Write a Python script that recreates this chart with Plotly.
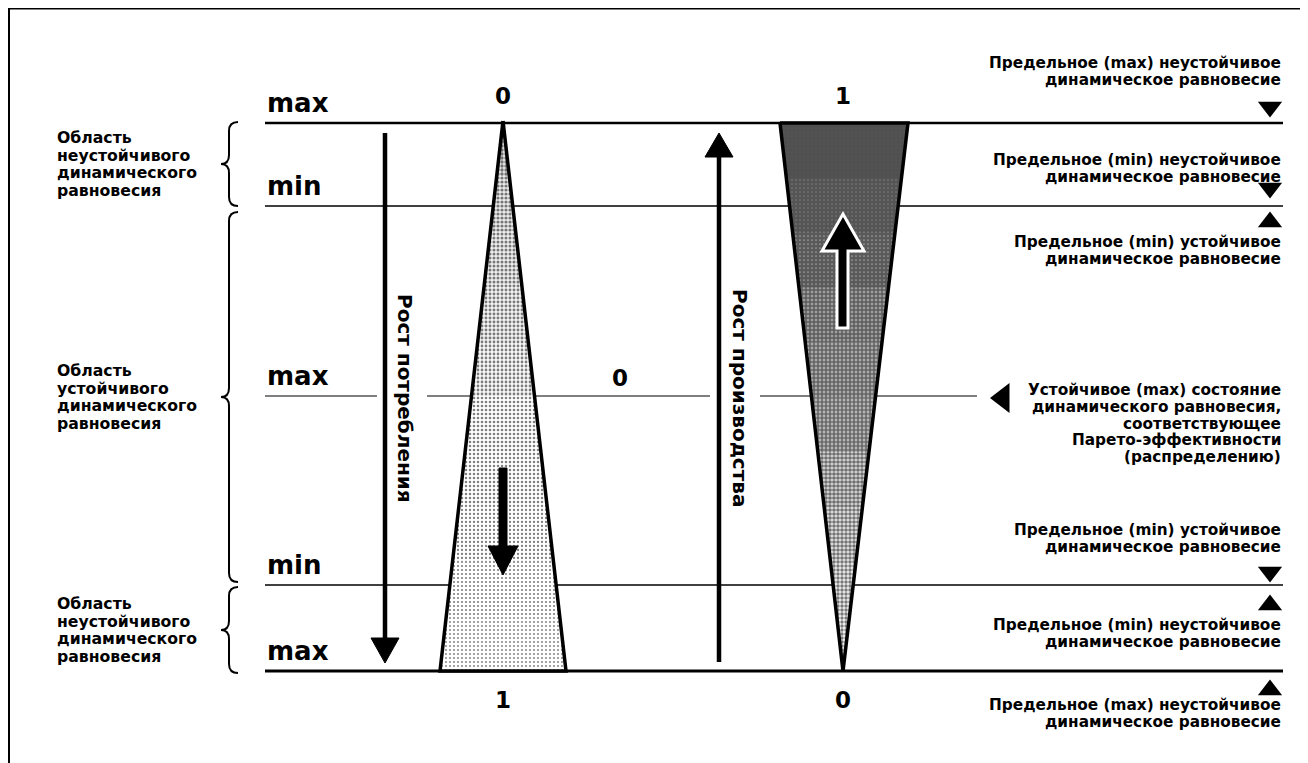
import plotly.graph_objects as go

# ---------------- data ----------------
level_labels = ["max", "min", "max", "min", "max"]
level_values = [123, 206, 396, 585, 671]
level_widths = [2.5, 1.4, 1.2, 1.4, 3.0]

consumption_ends = ["0", "1"]     # top, bottom
production_ends = ["1", "0"]      # top, bottom
middle_zero = "0"

region_texts = [
    ["Область", "неустойчивого", "динамического", "равновесия"],
    ["Область", "устойчивого", "динамического", "равновесия"],
    ["Область", "неустойчивого", "динамического", "равновесия"],
]
region_spans = [(122, 206), (212, 582), (587, 673)]

right_texts = [
    ["Предельное (max) неустойчивое", "динамическое равновесие"],
    ["Предельное (min) неустойчивое", "динамическое равновесие"],
    ["Предельное (min) устойчивое", "динамическое равновесие"],
    ["Устойчивое (max) состояние", "динамического равновесия,", "соответствующее",
     "Парето-эффективности", "(распределению)"],
    ["Предельное (min) устойчивое", "динамическое равновесие"],
    ["Предельное (min) неустойчивое", "динамическое равновесие"],
    ["Предельное (max) неустойчивое", "динамическое равновесие"],
]
right_text_top = [63, 160, 242, 390, 530, 625, 705]

right_markers = ["triangle-down", "triangle-down", "triangle-up", "triangle-left",
                 "triangle-down", "triangle-up", "triangle-up"]
right_marker_y = [107, 188, 222, 398, 572, 605, 690]

arrow_labels = ["Рост потребления", "Рост производства"]

# stipple density of the two wedges, from top to bottom
consumption_shading = [0.55, 0.5, 0.46, 0.42, 0.38, 0.34, 0.3, 0.26, 0.22, 0.18]
production_shading = [0.9, 0.86, 0.82, 0.78, 0.74, 0.7, 0.66, 0.62, 0.58, 0.55]
production_paper = ["#a0a0a0", "#aaaaaa", "#b4b4b4", "#bebebe", "#c8c8c8",
                    "#d2d2d2", "#dcdcdc", "#e6e6e6", "#f0f0f0", "#f8f8f8"]
consumption_paper = ["#e8e8e8", "#ececec", "#f0f0f0", "#f4f4f4", "#f8f8f8",
                     "#ffffff", "#ffffff", "#ffffff", "#ffffff", "#ffffff"]

# ---------------- geometry helpers ----------------
X0, X1 = 265, 1283
W, H = 1308, 763
PAD = 8  # page body margin of the html page
FONT = "DejaVu Sans"

fig = go.Figure()
shapes = []
annotations = []

# frame
shapes.append(dict(type="line", x0=9, x1=W, y0=8.8, y1=8.8, line=dict(color="black", width=1.5)))
shapes.append(dict(type="line", x0=9, x1=9, y0=8, y1=H, line=dict(color="black", width=2)))

# horizontal level lines
for i, (yv, lw) in enumerate(zip(level_values, level_widths)):
    if i == 2:
        segs = [(X0, 377), (427, 710), (760, 977)]
    else:
        segs = [(X0, X1)]
    for a, b in segs:
        shapes.append(dict(type="line", x0=a, x1=b, y0=yv, y1=yv,
                           line=dict(color="black", width=lw), layer="below"))

# level labels
for lab, yv in zip(level_labels, level_values):
    annotations.append(dict(x=265, y=yv - 3, text=lab, showarrow=False, xanchor="left",
                            yanchor="bottom", font=dict(family=FONT, size=26, color="black",
                                                        weight="bold")))

# braces
def brace(y0, y1, xr=238, xm=229, xl=221, h=9):
    ym = (y0 + y1) / 2
    return (f"M {xr},{y0} Q {xm},{y0} {xm},{y0+h} L {xm},{ym-h} Q {xm},{ym} {xl},{ym} "
            f"Q {xm},{ym} {xm},{ym+h} L {xm},{y1-h} Q {xm},{y1} {xr},{y1}")

for (a, b), lines in zip(region_spans, region_texts):
    shapes.append(dict(type="path", path=brace(a, b), line=dict(color="black", width=2)))
    mid = (a + b) / 2
    n = len(lines)
    for k, t in enumerate(lines):
        annotations.append(dict(x=55, y=mid + (k - (n - 1) / 2) * 17.5, text=t, showarrow=False,
                                xanchor="left", yanchor="middle",
                                font=dict(family=FONT, size=15.7, color="black", weight="bold")))

# triangles (stippled) via filled scatter traces in bands
def edge_x(xa, xb, ya, yb, y):
    return xa + (xb - xa) * (y - ya) / (yb - ya)

def add_band_triangle(top_l, top_r, bot_l, bot_r, y_top, y_bot, shading, paper):
    n = len(shading)
    step = (y_bot - y_top) / n
    for k, (sol, bg) in enumerate(zip(shading, paper)):
        ya = y_top + k * step
        yb = y_top + (k + 1) * step + (0.6 if k < n - 1 else 0)
        xl_a = edge_x(top_l, bot_l, y_top, y_bot, ya)
        xr_a = edge_x(top_r, bot_r, y_top, y_bot, ya)
        xl_b = edge_x(top_l, bot_l, y_top, y_bot, yb)
        xr_b = edge_x(top_r, bot_r, y_top, y_bot, yb)
        fig.add_trace(go.Scatter(
            x=[xl_a, xr_a, xr_b, xl_b, xl_a], y=[ya, ya, yb, yb, ya],
            mode="lines", fill="toself", line=dict(width=0, color="rgba(0,0,0,0)"),
            fillcolor=bg,
            fillpattern=dict(shape=".", size=4, solidity=sol, fgcolor="black", bgcolor=bg),
            hoverinfo="skip", showlegend=False))
    fig.add_trace(go.Scatter(
        x=[top_l, top_r, bot_r, bot_l, top_l], y=[y_top, y_top, y_bot, y_bot, y_top],
        mode="lines", line=dict(color="black", width=3.5), hoverinfo="skip", showlegend=False))

top_y, bot_y = level_values[0], level_values[-1]
# consumption triangle: apex at top
add_band_triangle(503, 503, 440, 566, top_y - 2, bot_y, consumption_shading, consumption_paper)
# production triangle: apex at bottom
add_band_triangle(780, 908, 843, 843, top_y, bot_y, production_shading, production_paper)

# vertical growth arrows
shapes.append(dict(type="line", x0=385, x1=385, y0=133, y1=640, line=dict(color="black", width=4.5)))
shapes.append(dict(type="path", path="M 371,638 L 399,638 L 385,663 Z", fillcolor="black",
                   line=dict(color="black", width=1)))
shapes.append(dict(type="line", x0=719, x1=719, y0=662, y1=155, line=dict(color="black", width=4.5)))
shapes.append(dict(type="path", path="M 705,157 L 733,157 L 719,133 Z", fillcolor="black",
                   line=dict(color="black", width=1)))

# thick arrows inside triangles
shapes.append(dict(type="path",
                   path="M 499,468 L 507,468 L 507,546 L 518,546 L 503,575 L 488,546 L 499,546 Z",
                   fillcolor="black", line=dict(color="black", width=1)))
shapes.append(dict(type="path",
                   path="M 837,328 L 848,328 L 848,251 L 864,251 L 843,214 L 822,251 L 837,251 Z",
                   fillcolor="black", line=dict(color="white", width=3)))

# vertical labels
for xv, t in zip([405, 740], arrow_labels):
    annotations.append(dict(x=xv, y=398, text=t, showarrow=False, textangle=90,
                            xanchor="center", yanchor="middle",
                            font=dict(family=FONT, size=20, color="black", weight="bold")))

# end labels
for xv, labs in zip([503, 843], [consumption_ends, production_ends]):
    annotations.append(dict(x=xv, y=96, text=labs[0], showarrow=False, xanchor="center",
                            yanchor="middle", font=dict(family=FONT, size=23, color="black",
                                                        weight="bold")))
    annotations.append(dict(x=xv, y=700, text=labs[1], showarrow=False, xanchor="center",
                            yanchor="middle", font=dict(family=FONT, size=23, color="black",
                                                        weight="bold")))
annotations.append(dict(x=620, y=378, text=middle_zero, showarrow=False, xanchor="center",
                        yanchor="middle", font=dict(family=FONT, size=23, color="black",
                                                    weight="bold")))

# right texts
for lines, y0 in zip(right_texts, right_text_top):
    for k, t in enumerate(lines):
        annotations.append(dict(x=X1, y=y0 + k * 16.8, text=t, showarrow=False, xanchor="right",
                                yanchor="middle",
                                font=dict(family=FONT, size=15.3, color="black", weight="bold")))

# right markers
mx = [1270 if m != "triangle-left" else 1003 for m in right_markers]
msz = [21 if m != "triangle-left" else 26 for m in right_markers]
fig.add_trace(go.Scatter(x=mx, y=right_marker_y, mode="markers",
                         marker=dict(symbol=right_markers, size=msz, color="black",
                                     opacity=1, line=dict(width=0)),
                         hoverinfo="skip", showlegend=False))

# the page body has an 8px margin: shrink the figure and start the ranges there
fig.update_layout(
    width=W - PAD, height=H - PAD, margin=dict(l=0, r=0, t=0, b=0),
    paper_bgcolor="white", plot_bgcolor="white",
    xaxis=dict(range=[PAD, W], visible=False, fixedrange=True),
    yaxis=dict(range=[H, PAD], visible=False, fixedrange=True),
    shapes=shapes, annotations=annotations, showlegend=False,
)
fig.write_html("out.html")
